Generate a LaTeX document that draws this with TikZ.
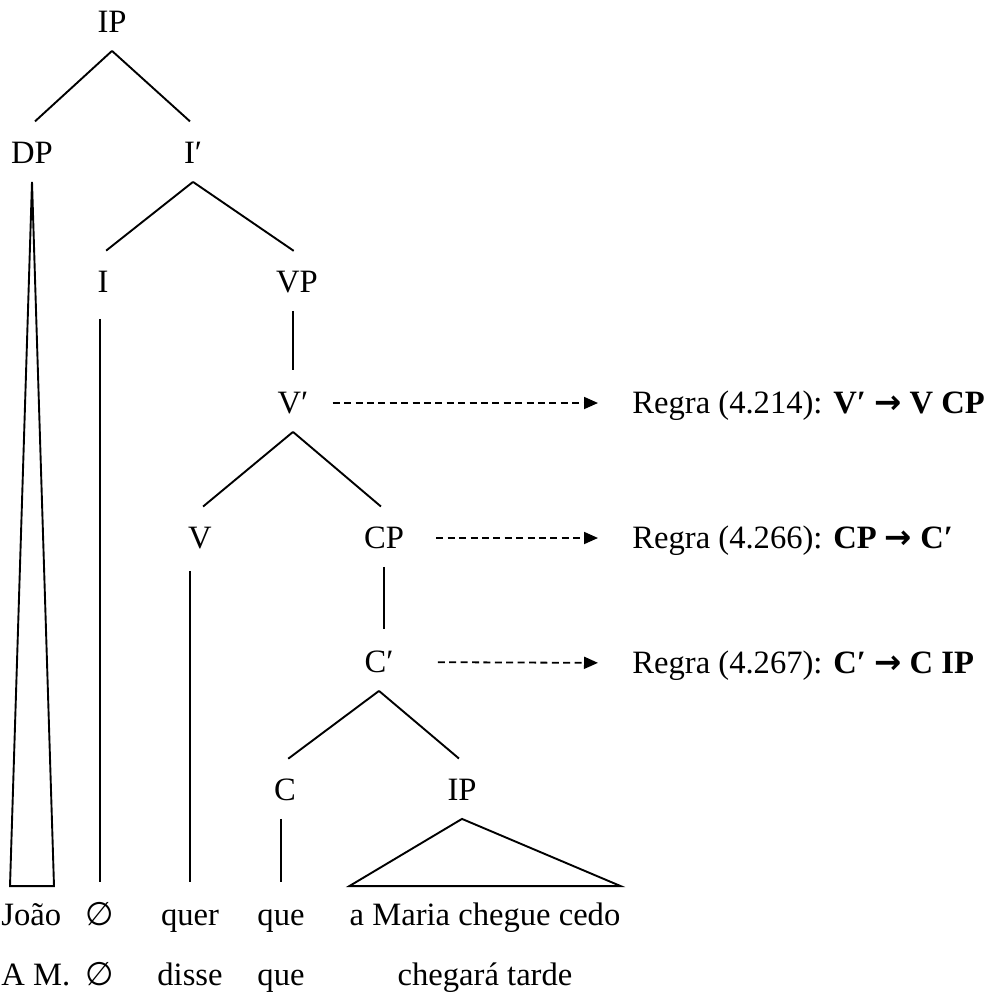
\documentclass[tikz,border=0pt]{standalone}
\usepackage{fontspec}
\setmainfont{Liberation Serif}
\newfontfamily\symfont{DejaVu Sans}
\usetikzlibrary{arrows.meta,positioning,calc}

\tikzset{
  cat/.style={font=\fontsize{16.3}{19}\selectfont, inner xsep=0pt, inner ysep=9pt,
    text height=10.5pt, text depth=0pt},
  branch/.style={line width=0.95pt, shorten >=2pt},
  ruleline/.style={line width=0.9pt, dash pattern=on 3.5pt off 2.2pt,
    -{Triangle[length=7pt,width=6pt]}},
  regra/.style={cat, anchor=west}
}
\newcommand{\seta}{{\symfont\bfseries →}}

\begin{document}
\begin{tikzpicture}[x=0.5pt,y=-0.5pt]
\useasboundingbox (0,0) rectangle (1000,1001);

% categories
\node[cat] (ip) at (112,22) {IP};
\node[cat] (dp) at (32,153) {DP};
\node[cat] (ibar) at (193,153) {I′};
\node[cat] (i) at (103,282) {I};
\node[cat] (vp) at (297,282) {VP};
\node[cat] (vbar) at (293,403) {V′};
\node[cat] (v) at (200,538) {V};
\node[cat] (cp) at (384,538) {CP};
\node[cat] (cbar) at (379,662) {C′};
\node[cat] (c) at (285,790) {C};
\node[cat] (iplow) at (462,790) {IP};

% words
\node[cat, anchor=west] (joao) at (1,915) {João};
\node[cat] (null) at (100,915) {\symfont ∅};
\node[cat] (quer) at (190,915) {quer};
\node[cat] (que) at (281,915) {que};
\node[cat] (maria) at (485,915) {a Maria chegue cedo};
\node[cat, anchor=west] (am) at (1,975) {A M.};
\node[cat] (nullb) at (100,975) {\symfont ∅};
\node[cat] (disse) at (190,975) {disse};
\node[cat] (queb) at (281,975) {que};
\node[cat] (tarde) at (485,975) {chegará tarde};

% rules
\node[regra] (r1) at (632,403) {Regra (4.214): \textbf{V′ \seta{} V CP}};
\node[regra] (r2) at (632,538) {Regra (4.266): \textbf{CP \seta{} C′}};
\node[regra] (r3) at (632,663) {Regra (4.267): \textbf{C′ \seta{} C IP}};

% branches
\draw[branch] (ip.south) -- (dp.north);
\draw[branch] (ip.south) -- (ibar.north);
\draw[branch] (ibar.south) -- (i.north);
\draw[branch] (ibar.south) -- (vp.north);
\draw[branch] (vbar.north |- vp.south) -- (vbar.north);
\draw[branch] (vbar.south) -- (v.north);
\draw[branch] (vbar.south) -- (cp.north);
\draw[branch] (cp.south) -- (cp.south |- cbar.north);
\draw[branch] (cbar.south) -- (c.north);
\draw[branch] (cbar.south) -- (iplow.north);

% down to the words
\draw[line width=0.95pt] (dp.south) -- ($(dp.south |- joao.north)+(-22,0)$)
  -- ($(dp.south |- joao.north)+(22,0)$) -- cycle;
\draw[branch, shorten <=4pt] (null.north |- i.south) -- (null.north);
\draw[branch, shorten <=2pt] (quer.north |- v.south) -- (quer.north);
\draw[branch] (que.north |- c.south) -- (que.north);
\draw[line width=0.95pt] (iplow.south) -- (maria.north west) -- (maria.north east) -- cycle;

% rule arrows
\draw[ruleline, shorten <=12pt, shorten >=17pt] (vbar.east) -- (r1.west);
\draw[ruleline, shorten <=16pt, shorten >=17pt] (cp.east) -- (r2.west);
\draw[ruleline, shorten <=22pt, shorten >=17pt] (cbar.east) -- (r3.west);
\end{tikzpicture}
\end{document}
